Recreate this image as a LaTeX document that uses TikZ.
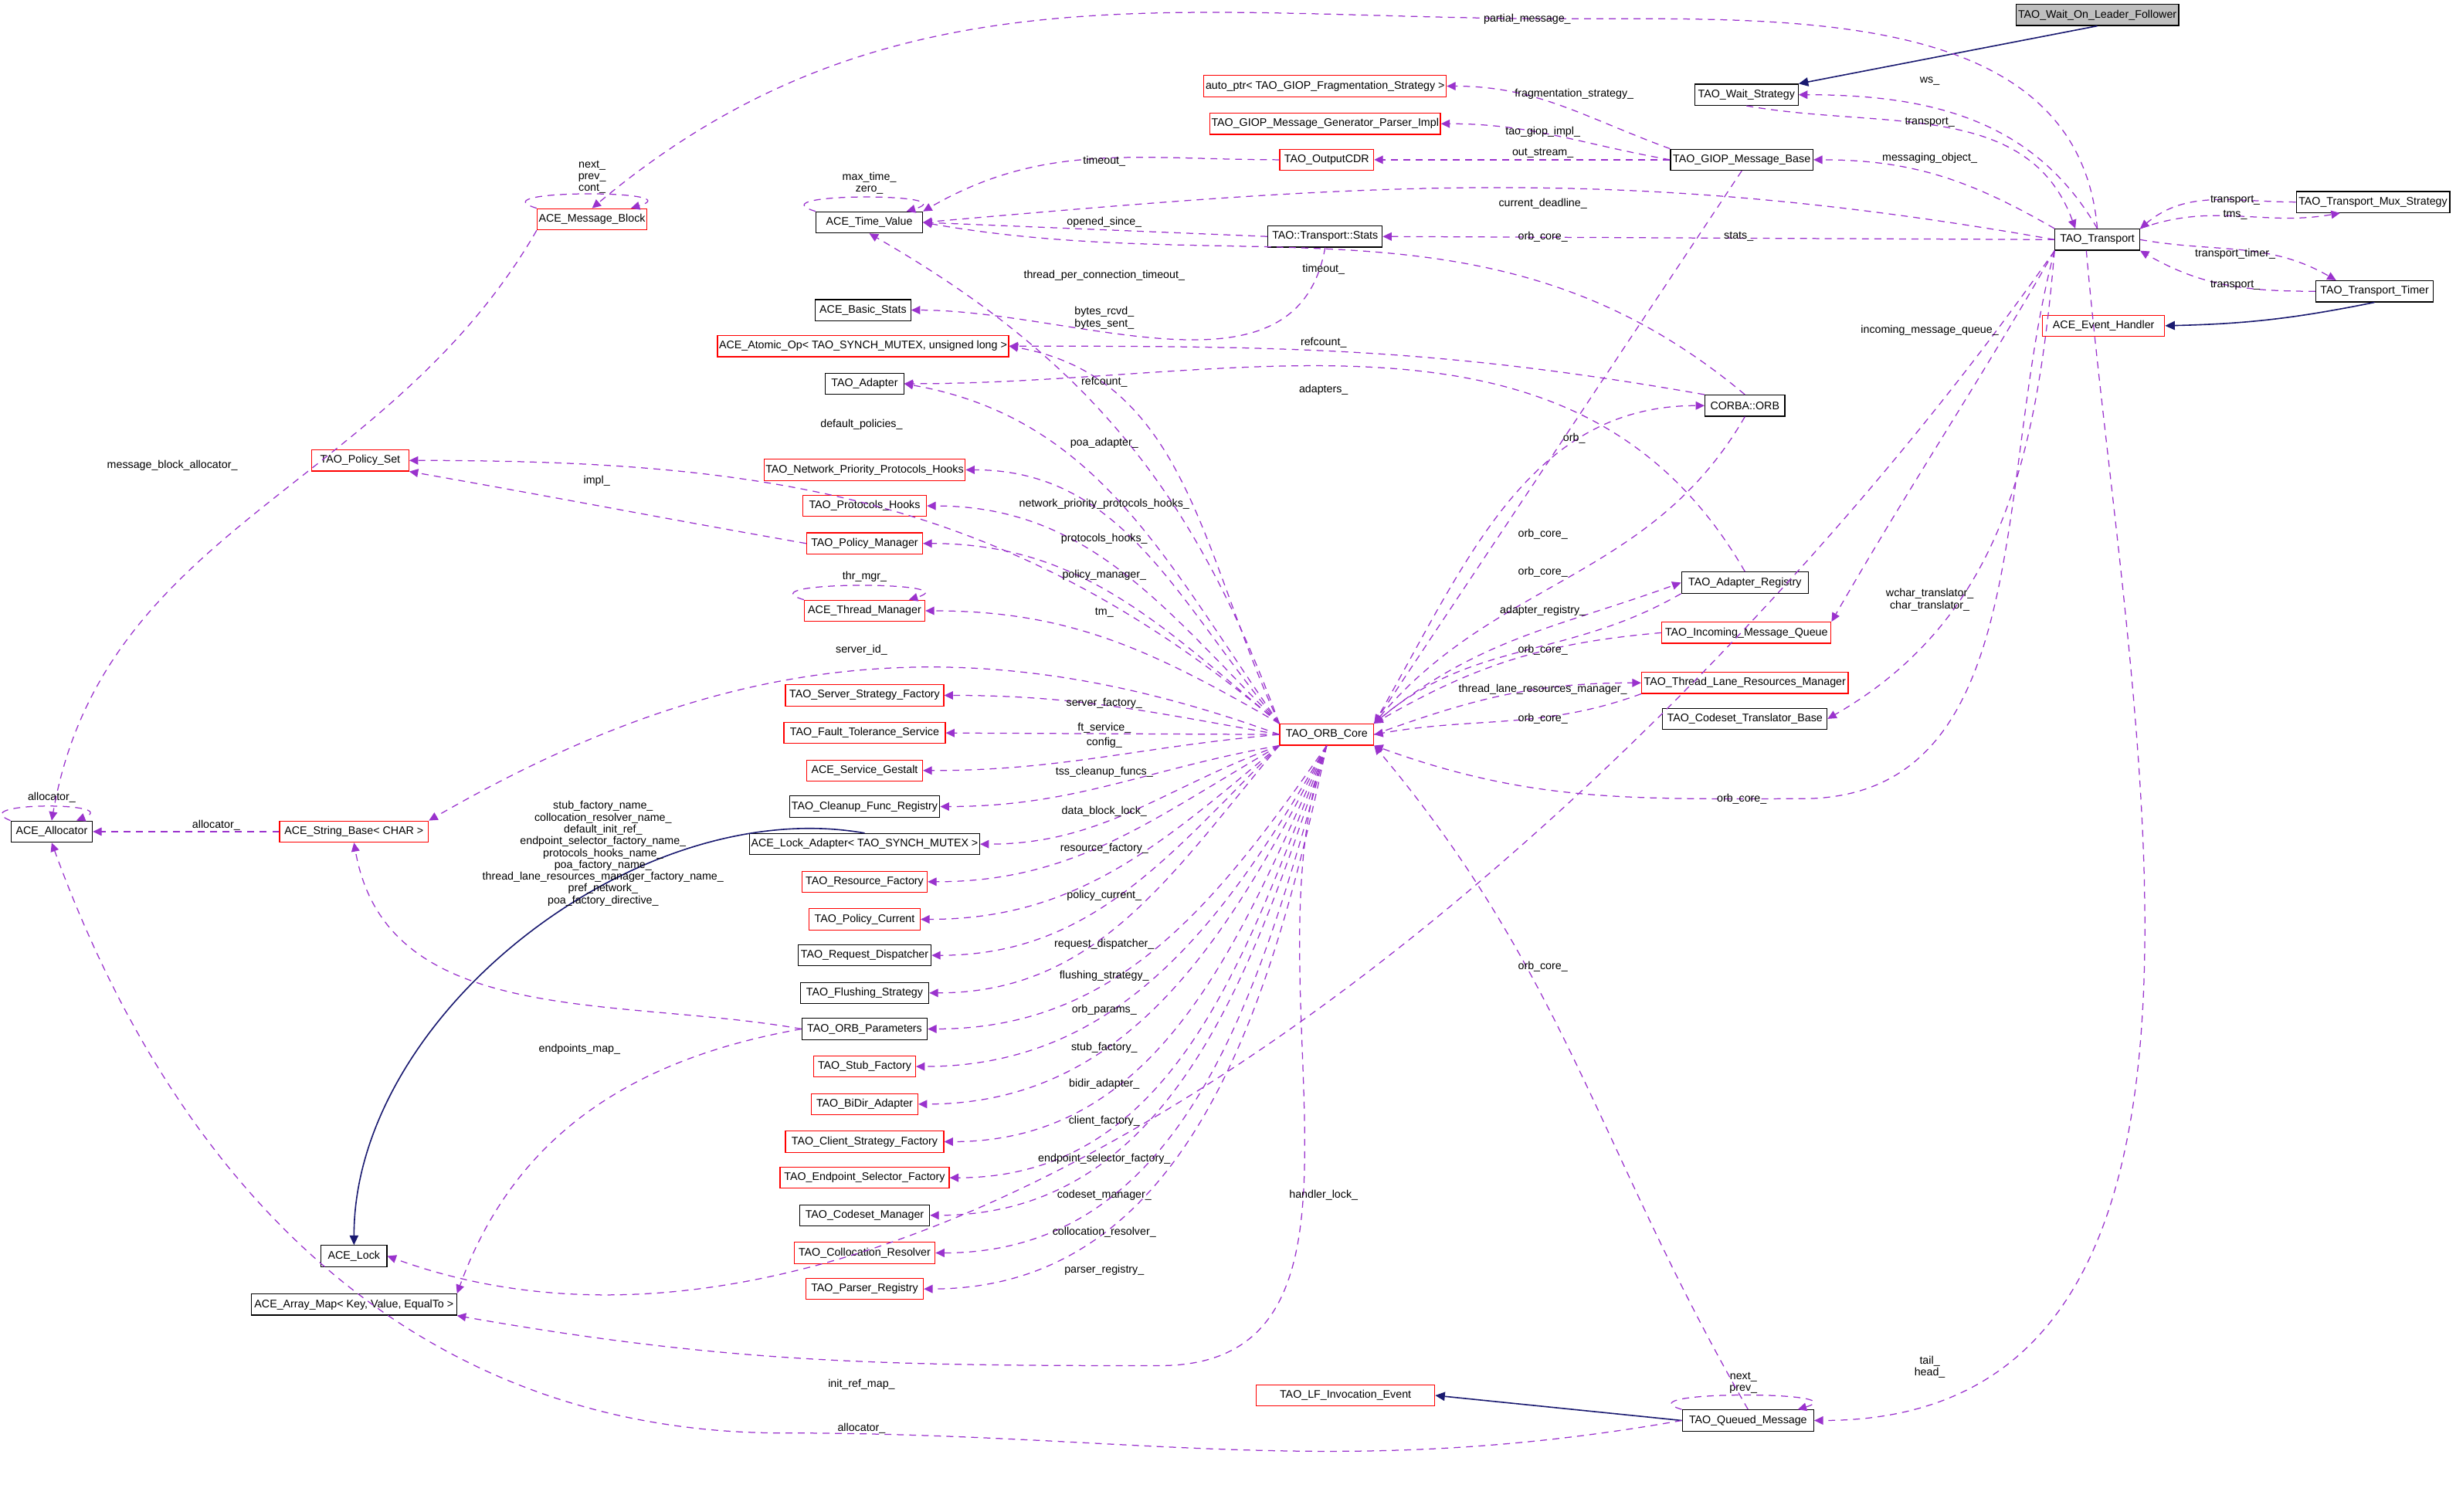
\documentclass[tikz,border=0pt]{standalone}
\usepackage{fontspec}
\setmainfont{Liberation Sans}
\usetikzlibrary{arrows.meta}
\definecolor{pur}{HTML}{9A32CD}
\definecolor{nav}{HTML}{191970}
\tikzset{
 bx/.style={draw=black, fill=white, font=\fontsize{4}{4.5}\selectfont, minimum height=0.27cm, inner sep=0.6pt, line width=0.35pt},
 rb/.style={bx, draw=red},
 e/.style={draw=pur, line width=0.35pt, dash pattern=on 2.5pt off 2pt, -{Triangle[length=3.2pt,width=3pt]}},
 inh/.style={draw=nav, line width=0.45pt, -{Triangle[length=3.5pt,width=3.2pt]}},
 lb/.style={font=\fontsize{4}{4.3}\selectfont, align=center, inner sep=0pt}
}
\begin{document}
\begin{tikzpicture}[x=0.02cm,y=-0.02cm]
\useasboundingbox[fill=white] (0,0) rectangle (1568,965);
% nodes
\node[bx,fill=black!25,minimum width=2.08cm] (wolf) at (1339,9.5) {TAO\_Wait\_On\_Leader\_Follower};
\node[bx,minimum width=1.32cm] (ws) at (1115,60.5) {TAO\_Wait\_Strategy};
\node[rb,minimum width=3.06cm] (ap) at (846,55) {auto\_ptr< TAO\_GIOP\_Fragmentation\_Strategy >};
\node[rb,minimum width=2.94cm] (gp) at (846,79) {TAO\_GIOP\_Message\_Generator\_Parser\_Impl};
\node[rb,minimum width=1.2cm] (cdr) at (847,102) {TAO\_OutputCDR};
\node[bx,minimum width=1.82cm] (gmb) at (1112,102) {TAO\_GIOP\_Message\_Base};
\node[rb,minimum width=1.4cm] (mb) at (378,140) {ACE\_Message\_Block};
\node[bx,minimum width=1.36cm] (tv) at (555,142) {ACE\_Time\_Value};
\node[bx,minimum width=1.46cm] (st) at (846,151) {TAO::Transport::Stats};
\node[bx,minimum width=1.08cm] (tr) at (1339,153) {TAO\_Transport};
\node[bx,minimum width=1.96cm] (mux) at (1515,129) {TAO\_Transport\_Mux\_Strategy};
\node[bx,minimum width=1.5cm] (tt) at (1516,186) {TAO\_Transport\_Timer};
\node[rb,minimum width=1.56cm] (eh) at (1343,208) {ACE\_Event\_Handler};
\node[bx,minimum width=1.22cm] (bs) at (551,198) {ACE\_Basic\_Stats};
\node[rb,minimum width=3.6cm] (ao) at (551,221) {ACE\_Atomic\_Op< TAO\_SYNCH\_MUTEX, unsigned long >};
\node[bx,minimum width=1.0cm] (ad) at (552,245) {TAO\_Adapter};
\node[bx,minimum width=1.02cm] (orb) at (1114,259) {CORBA::ORB};
\node[rb,minimum width=1.24cm] (ps) at (230,294) {TAO\_Policy\_Set};
\node[rb,minimum width=2.52cm] (npph) at (552,300) {TAO\_Network\_Priority\_Protocols\_Hooks};
\node[rb,minimum width=1.58cm] (ph) at (552,323) {TAO\_Protocols\_Hooks};
\node[rb,minimum width=1.48cm] (pm) at (552,347) {TAO\_Policy\_Manager};
\node[bx,minimum width=1.62cm] (ar) at (1114,372) {TAO\_Adapter\_Registry};
\node[rb,minimum width=1.54cm] (thm) at (552,390) {ACE\_Thread\_Manager};
\node[rb,minimum width=2.16cm] (imq) at (1115,404) {TAO\_Incoming\_Message\_Queue};
\node[rb,minimum width=2.64cm] (tlrm) at (1114,436) {TAO\_Thread\_Lane\_Resources\_Manager};
\node[rb,minimum width=2.02cm] (ssf) at (552,444) {TAO\_Server\_Strategy\_Factory};
\node[bx,minimum width=2.1cm] (ctb) at (1114,459) {TAO\_Codeset\_Translator\_Base};
\node[rb,minimum width=1.2cm] (oc) at (847,469) {TAO\_ORB\_Core};
\node[rb,minimum width=2.06cm] (fts) at (552,468) {TAO\_Fault\_Tolerance\_Service};
\node[rb,minimum width=1.48cm] (sg) at (552,492) {ACE\_Service\_Gestalt};
\node[bx,minimum width=1.92cm] (cfr) at (552,515) {TAO\_Cleanup\_Func\_Registry};
\node[bx,minimum width=1.04cm] (al) at (33,531) {ACE\_Allocator};
\node[rb,minimum width=1.9cm] (sb) at (226,531) {ACE\_String\_Base< CHAR >};
\node[bx,minimum width=2.92cm] (la) at (552,539) {ACE\_Lock\_Adapter< TAO\_SYNCH\_MUTEX >};
\node[rb,minimum width=1.6cm] (rf) at (552,563) {TAO\_Resource\_Factory};
\node[rb,minimum width=1.42cm] (pc) at (552,587) {TAO\_Policy\_Current};
\node[bx,minimum width=1.7cm] (rd) at (552,610) {TAO\_Request\_Dispatcher};
\node[bx,minimum width=1.64cm] (fs) at (552,634) {TAO\_Flushing\_Strategy};
\node[bx,minimum width=1.6cm] (op) at (552,657) {TAO\_ORB\_Parameters};
\node[rb,minimum width=1.3cm] (sf) at (552,681) {TAO\_Stub\_Factory};
\node[rb,minimum width=1.36cm] (bd) at (552,705) {TAO\_BiDir\_Adapter};
\node[rb,minimum width=2.02cm] (csf) at (552,729) {TAO\_Client\_Strategy\_Factory};
\node[rb,minimum width=2.16cm] (esf) at (552,752) {TAO\_Endpoint\_Selector\_Factory};
\node[bx,minimum width=1.66cm] (cm) at (552,776) {TAO\_Codeset\_Manager};
\node[rb,minimum width=1.8cm] (cr) at (552,800) {TAO\_Collocation\_Resolver};
\node[rb,minimum width=1.5cm] (pr) at (552,823) {TAO\_Parser\_Registry};
\node[bx,minimum width=0.84cm] (lk) at (226,802) {ACE\_Lock};
\node[bx,minimum width=2.62cm] (am) at (226,833) {ACE\_Array\_Map< Key, Value, EqualTo >};
\node[rb,minimum width=2.28cm] (lfe) at (859,891) {TAO\_LF\_Invocation\_Event};
\node[bx,minimum width=1.68cm] (qm) at (1116,907) {TAO\_Queued\_Message};
% inheritance
\draw[inh] (wolf.south) -- (ws.north east);
\draw[inh] (tt.south) to[bend left=5] (eh.east);
\draw[inh] (la.north) to[out=170,in=90,looseness=0.9] (lk.north);
\draw[inh] (qm.west) -- (lfe.east);
% self loops
\draw[e] (tv.north west) .. controls +(-40,-12) and +(40,-12) .. ([xshift=-6pt]tv.north east);
\draw[e] (mb.north west) .. controls +(-40,-12) and +(40,-12) .. ([xshift=-6pt]mb.north east);
\draw[e] (thm.north west) .. controls +(-40,-12) and +(40,-12) .. ([xshift=-6pt]thm.north east);
\draw[e] (al.north west) .. controls +(-30,-12) and +(30,-12) .. ([xshift=-6pt]al.north east);
\draw[e] (qm.north west) .. controls +(-40,-12) and +(40,-12) .. ([xshift=-6pt]qm.north east);
\node[lb] at (555,117) {max\_time\_\\zero\_};
\node[lb] at (378,113) {next\_\\prev\_\\cont\_};
\node[lb] at (552,368) {thr\_mgr\_};
\node[lb] at (33,509) {allocator\_};
\node[lb] at (1113,883) {next\_\\prev\_};
% transport area
\draw[e] (tr.north) to[out=120,in=0] (ws.east);
\draw[e] (ws.south) to[out=-10,in=110] ([xshift=-8pt]tr.north);
\draw[e] (tr.north) to[out=95,in=0] (1000,12) to[out=180,in=40] (mb.north);
\draw[e] (gmb.north west) to[out=160,in=0] (ap.east);
\draw[e] (gmb.west) to[out=170,in=0] (gp.east);
\draw[e] (gmb.west) -- (cdr.east);
\draw[e] (tr.north west) to[out=150,in=0] (gmb.east);
\draw[e] (cdr.west) to[out=180,in=30] (tv.north east);
\draw[e] (tr.west) to[out=170,in=5] (tv.east);
\draw[e] (st.west) -- (tv.east);
\draw[e] (tr.west) -- (st.east);
\draw[e] (gmb.south) -- (oc.north east);
\draw[e] (oc.north west) to[out=110,in=-30] (tv.south);
\draw[e] (orb.north) to[out=140,in=-10] (tv.east);
\draw[e] (st.south) to[out=-100,in=0] (bs.east);
\draw[e] (orb.north west) to[out=170,in=0] (ao.east);
\draw[e] (oc.north west) to[out=115,in=-10] (ao.east);
\draw[e] (ar.north) to[out=120,in=0] (ad.east);
\draw[e] (oc.north west) to[out=125,in=-10] (ad.east);
\draw[e] (oc.north west) to[out=140,in=0] (ps.east);
\draw[e] (pm.west) to[out=170,in=-10] (ps.south east);
\draw[e] (oc.north west) to[out=130,in=0] (npph.east);
\draw[e] (oc.north west) to[out=135,in=0] (ph.east);
\draw[e] (oc.north west) to[out=140,in=0] (pm.east);
\draw[e] (oc.north west) to[out=150,in=0] (thm.east);
\draw[e] (oc.west) to[out=160,in=30] (sb.north east);
\draw[e] (oc.west) to[out=170,in=0] (ssf.east);
\draw[e] (oc.west) -- (fts.east);
\draw[e] (oc.west) to[out=185,in=0] (sg.east);
\draw[e] (oc.south west) to[out=190,in=0] (cfr.east);
\draw[e] (oc.south west) to[out=200,in=0] (la.east);
\draw[e] (oc.south west) to[out=210,in=0] (rf.east);
\draw[e] (oc.south west) to[out=220,in=0] (pc.east);
\draw[e] (oc.south west) to[out=225,in=0] (rd.east);
\draw[e] (oc.south west) to[out=230,in=0] (fs.east);
\draw[e] (oc.south) to[out=235,in=0] (op.east);
\draw[e] (oc.south) to[out=240,in=0] (sf.east);
\draw[e] (oc.south) to[out=243,in=0] (bd.east);
\draw[e] (oc.south) to[out=246,in=0] (csf.east);
\draw[e] (oc.south) to[out=249,in=0] (esf.east);
\draw[e] (oc.south) to[out=252,in=0] (cm.east);
\draw[e] (oc.south) to[out=255,in=0] (cr.east);
\draw[e] (oc.south) to[out=258,in=0] (pr.east);
\draw[e] (oc.south) to[out=250,in=0] (740,872) to[out=180,in=-10] (am.south east);
\draw[e] (oc.north east) to[out=60,in=180] (orb.west);
\draw[e] (orb.south) to[out=-120,in=50] (oc.north east);
\draw[e] (ar.south west) to[out=-150,in=40] (oc.north east);
\draw[e] (oc.north east) to[out=40,in=-160] (ar.west);
\draw[e] (imq.west) to[out=185,in=30] (oc.north east);
\draw[e] (oc.east) to[out=20,in=180] (tlrm.west);
\draw[e] (tlrm.south west) to[out=-160,in=10] (oc.east);
\draw[e] (tr.south west) to[out=-105,in=0] (1150,510) to[out=180,in=-20] (oc.south east);
\draw[e] (qm.north) to[out=120,in=-50] (oc.south east);
\draw[e] (tr.south west) to[out=-120,in=60] (imq.north east);
\draw[e] (tr.south west) to[out=-95,in=30] (ctb.east);
\draw[e] (tr.north east) to[out=20,in=190] ([xshift=-12pt]mux.south);
\draw[e] (mux.west) to[out=180,in=40] (tr.north east);
\draw[e] (tr.east) to[out=-10,in=150] ([xshift=-14pt]tt.north);
\draw[e] (tt.west) to[out=180,in=-30] (tr.south east);
% allocators etc.
\draw[e] (mb.south west) to[out=-120,in=80] (al.north);
\draw[e] (sb.west) -- (al.east);
\draw[e] (qm.west) to[out=190,in=0] (500,915) to[out=180,in=-70] (al.south);
\draw[e] (op.west) to[out=170,in=-80] (sb.south);
\draw[e] (op.west) to[out=190,in=70] (am.north east);
\draw[e] (tr.south west) to[out=-125,in=-20,looseness=0.8] (lk.east);
\draw[e] ([xshift=-4pt]tr.south) to[out=-85,in=0] (qm.east);
% labels
\node[lb] at (1232,52) {ws\_};
\node[lb] at (1232,78) {transport\_};
\node[lb] at (975,12) {partial\_message\_};
\node[lb] at (1005,60) {fragmentation\_strategy\_};
\node[lb] at (985,84) {tao\_giop\_impl\_};
\node[lb] at (985,98) {out\_stream\_};
\node[lb] at (1232,101) {messaging\_object\_};
\node[lb] at (705,103) {timeout\_};
\node[lb] at (985,130) {current\_deadline\_};
\node[lb] at (705,142) {opened\_since\_};
\node[lb] at (985,151) {orb\_core\_};
\node[lb] at (1110,151) {stats\_};
\node[lb] at (705,176) {thread\_per\_connection\_timeout\_};
\node[lb] at (845,172) {timeout\_};
\node[lb] at (705,203) {bytes\_rcvd\_\\bytes\_sent\_};
\node[lb] at (845,219) {refcount\_};
\node[lb] at (705,244) {refcount\_};
\node[lb] at (845,249) {adapters\_};
\node[lb] at (550,271) {default\_policies\_};
\node[lb] at (705,283) {poa\_adapter\_};
\node[lb] at (381,307) {impl\_};
\node[lb] at (705,322) {network\_priority\_protocols\_hooks\_};
\node[lb] at (705,344) {protocols\_hooks\_};
\node[lb] at (705,367) {policy\_manager\_};
\node[lb] at (705,391) {tm\_};
\node[lb] at (550,415) {server\_id\_};
\node[lb] at (705,449) {server\_factory\_};
\node[lb] at (705,465) {ft\_service\_};
\node[lb] at (705,474) {config\_};
\node[lb] at (705,493) {tss\_cleanup\_funcs\_};
\node[lb] at (705,518) {data\_block\_lock\_};
\node[lb] at (705,542) {resource\_factory\_};
\node[lb] at (705,572) {policy\_current\_};
\node[lb] at (705,603) {request\_dispatcher\_};
\node[lb] at (705,623) {flushing\_strategy\_};
\node[lb] at (705,645) {orb\_params\_};
\node[lb] at (705,669) {stub\_factory\_};
\node[lb] at (705,692) {bidir\_adapter\_};
\node[lb] at (705,716) {client\_factory\_};
\node[lb] at (705,740) {endpoint\_selector\_factory\_};
\node[lb] at (705,763) {codeset\_manager\_};
\node[lb] at (705,787) {collocation\_resolver\_};
\node[lb] at (705,811) {parser\_registry\_};
\node[lb] at (1005,280) {orb\_};
\node[lb] at (985,341) {orb\_core\_};
\node[lb] at (985,365) {orb\_core\_};
\node[lb] at (985,390) {adapter\_registry\_};
\node[lb] at (985,415) {orb\_core\_};
\node[lb] at (985,440) {thread\_lane\_resources\_manager\_};
\node[lb] at (985,459) {orb\_core\_};
\node[lb] at (1112,510) {orb\_core\_};
\node[lb] at (985,617) {orb\_core\_};
\node[lb] at (1232,211) {incoming\_message\_queue\_};
\node[lb] at (1232,383) {wchar\_translator\_\\char\_translator\_};
\node[lb] at (1427,128) {transport\_};
\node[lb] at (1427,137) {tms\_};
\node[lb] at (1427,162) {transport\_timer\_};
\node[lb] at (1427,182) {transport\_};
\node[lb] at (110,297) {message\_block\_allocator\_};
\node[lb] at (138,527) {allocator\_};
\node[lb] at (550,912) {allocator\_};
\node[lb] at (385,545) {stub\_factory\_name\_\\collocation\_resolver\_name\_\\default\_init\_ref\_\\endpoint\_selector\_factory\_name\_\\protocols\_hooks\_name\_\\poa\_factory\_name\_\\thread\_lane\_resources\_manager\_factory\_name\_\\pref\_network\_\\poa\_factory\_directive\_};
\node[lb] at (370,670) {endpoints\_map\_};
\node[lb] at (845,763) {handler\_lock\_};
\node[lb] at (550,884) {init\_ref\_map\_};
\node[lb] at (1232,873) {tail\_\\head\_};
\end{tikzpicture}
\end{document}
